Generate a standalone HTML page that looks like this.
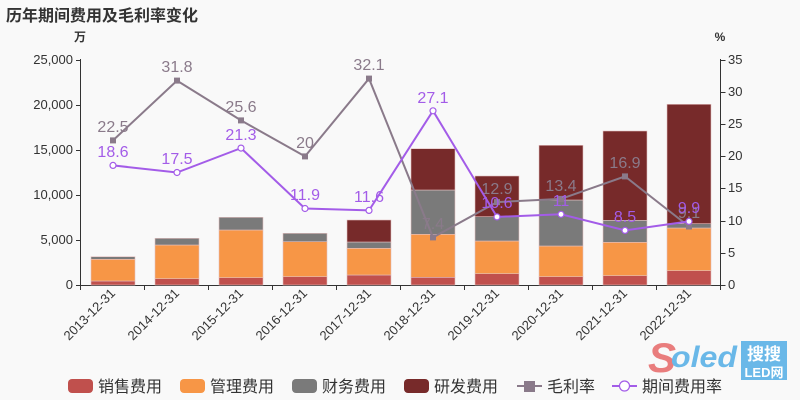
<!DOCTYPE html>
<html><head><meta charset="utf-8"><style>
body{margin:0;background:#f9f9f9;}
svg{display:block;font-family:"Liberation Sans","Noto Sans CJK SC",sans-serif;}
</style></head><body>
<svg width="800" height="400" viewBox="0 0 800 400">
<rect width="800" height="400" fill="#f9f9f9"/>
<text x="6" y="21" font-size="16" font-weight="bold" fill="#333">历年期间费用及毛利率变化</text>
<text x="80" y="41" font-size="12" fill="#333" text-anchor="middle" font-weight="bold">万</text>
<text x="720" y="41" font-size="12" fill="#333" text-anchor="middle" font-weight="bold">%</text>
<g stroke="#333" stroke-width="1" fill="none">
<path d="M80.5 59V285.5H720.5V59"/>
<path d="M76 60.5h4.5M76 105.5h4.5M76 150.5h4.5M76 195.5h4.5M76 240.5h4.5M76 285.5h4.5"/>
<path d="M720.5 60.5h5M720.5 92.5h5M720.5 124.5h5M720.5 156.5h5M720.5 188.5h5M720.5 221.5h5M720.5 253.5h5M720.5 285.5h5"/>
<path d="M80.5 285v5M144.5 285v5M208.5 285v5M272.5 285v5M336.5 285v5M400.5 285v5M464.5 285v5M528.5 285v5M592.5 285v5M656.5 285v5M720.5 285v5"/>
</g>
<g font-size="13" fill="#333" text-anchor="end">
<text x="73" y="64">25,000</text><text x="73" y="109">20,000</text><text x="73" y="154">15,000</text><text x="73" y="199">10,000</text><text x="73" y="244">5,000</text><text x="73" y="289">0</text>
</g>
<g font-size="13" fill="#333">
<text x="728" y="64">35</text><text x="728" y="96">30</text><text x="728" y="128">25</text><text x="728" y="160">20</text><text x="728" y="192">15</text><text x="728" y="225">10</text><text x="728" y="257">5</text><text x="728" y="289">0</text>
</g>
<g font-size="13" fill="#333" text-anchor="end">
<text transform="translate(116,294) rotate(-45)">2013-12-31</text>
<text transform="translate(180,294) rotate(-45)">2014-12-31</text>
<text transform="translate(244,294) rotate(-45)">2015-12-31</text>
<text transform="translate(308,294) rotate(-45)">2016-12-31</text>
<text transform="translate(372,294) rotate(-45)">2017-12-31</text>
<text transform="translate(436,294) rotate(-45)">2018-12-31</text>
<text transform="translate(500,294) rotate(-45)">2019-12-31</text>
<text transform="translate(564,294) rotate(-45)">2020-12-31</text>
<text transform="translate(628,294) rotate(-45)">2021-12-31</text>
<text transform="translate(692,294) rotate(-45)">2022-12-31</text>
</g>
<g stroke="#e3c0c0" stroke-width="0.6">
<rect x="91" y="281" width="44" height="4" fill="#c0504d"/>
<rect x="91" y="259.3" width="44" height="21.7" fill="#f79646"/>
<rect x="91" y="256.7" width="44" height="2.6" fill="#7a7a7a"/>
<rect x="155" y="278.7" width="44" height="6.3" fill="#c0504d"/>
<rect x="155" y="245" width="44" height="33.7" fill="#f79646"/>
<rect x="155" y="238.3" width="44" height="6.7" fill="#7a7a7a"/>
<rect x="219" y="277.7" width="44" height="7.3" fill="#c0504d"/>
<rect x="219" y="230" width="44" height="47.7" fill="#f79646"/>
<rect x="219" y="217.3" width="44" height="12.7" fill="#7a7a7a"/>
<rect x="283" y="276.7" width="44" height="8.3" fill="#c0504d"/>
<rect x="283" y="241.7" width="44" height="35" fill="#f79646"/>
<rect x="283" y="233.3" width="44" height="8.4" fill="#7a7a7a"/>
<rect x="347" y="275" width="44" height="10" fill="#c0504d"/>
<rect x="347" y="248.3" width="44" height="26.7" fill="#f79646"/>
<rect x="347" y="242" width="44" height="6.3" fill="#7a7a7a"/>
<rect x="347" y="220" width="44" height="22" fill="#772a2a"/>
<rect x="411" y="277.3" width="44" height="7.7" fill="#c0504d"/>
<rect x="411" y="234.3" width="44" height="43" fill="#f79646"/>
<rect x="411" y="190" width="44" height="44.3" fill="#7a7a7a"/>
<rect x="411" y="148.7" width="44" height="41.3" fill="#772a2a"/>
<rect x="475" y="273.7" width="44" height="11.3" fill="#c0504d"/>
<rect x="475" y="241" width="44" height="32.7" fill="#f79646"/>
<rect x="475" y="216.7" width="44" height="24.3" fill="#7a7a7a"/>
<rect x="475" y="176" width="44" height="40.7" fill="#772a2a"/>
<rect x="539" y="276.7" width="44" height="8.3" fill="#c0504d"/>
<rect x="539" y="246" width="44" height="30.7" fill="#f79646"/>
<rect x="539" y="200" width="44" height="46" fill="#7a7a7a"/>
<rect x="539" y="145.3" width="44" height="54.7" fill="#772a2a"/>
<rect x="603" y="275.7" width="44" height="9.3" fill="#c0504d"/>
<rect x="603" y="242.3" width="44" height="33.4" fill="#f79646"/>
<rect x="603" y="220.3" width="44" height="22" fill="#7a7a7a"/>
<rect x="603" y="131" width="44" height="89.3" fill="#772a2a"/>
<rect x="667" y="270.7" width="44" height="14.3" fill="#c0504d"/>
<rect x="667" y="228" width="44" height="42.7" fill="#f79646"/>
<rect x="667" y="223.7" width="44" height="4.3" fill="#7a7a7a"/>
<rect x="667" y="104.3" width="44" height="119.4" fill="#772a2a"/>
</g>
<polyline fill="none" stroke="#8a7a8a" stroke-width="2" points="113,140.4 177,80.6 241,120.4 305,156.4 369,78.6 433,237.4 497,202.1 561,198.9 625,176.4 689,226.5"/>
<g fill="#8a7a8a">
<rect x="110" y="137.4" width="6" height="6"/><rect x="174" y="77.6" width="6" height="6"/><rect x="238" y="117.4" width="6" height="6"/><rect x="302" y="153.4" width="6" height="6"/><rect x="366" y="75.6" width="6" height="6"/><rect x="430" y="234.4" width="6" height="6"/><rect x="494" y="199.1" width="6" height="6"/><rect x="558" y="195.9" width="6" height="6"/><rect x="622" y="173.4" width="6" height="6"/><rect x="686" y="223.5" width="6" height="6"/>
</g>
<g font-size="16" fill="#8a7a8a" text-anchor="middle">
<text x="113" y="132">22.5</text><text x="177" y="72">31.8</text><text x="241" y="112">25.6</text><text x="305" y="148">20</text><text x="369" y="70">32.1</text><text x="433" y="229">7.4</text><text x="497" y="194">12.9</text><text x="561" y="191">13.4</text><text x="625" y="168">16.9</text><text x="689" y="218">9.1</text>
</g>
<polyline fill="none" stroke="#a35ce8" stroke-width="2" points="113,165.4 177,172.5 241,148.1 305,208.5 369,210.4 433,110.8 497,216.9 561,214.3 625,230.4 689,221.4"/>
<g fill="#fff" stroke="#a35ce8" stroke-width="1.2">
<circle cx="113" cy="165.4" r="3"/><circle cx="177" cy="172.5" r="3"/><circle cx="241" cy="148.1" r="3"/><circle cx="305" cy="208.5" r="3"/><circle cx="369" cy="210.4" r="3"/><circle cx="433" cy="110.8" r="3"/><circle cx="497" cy="216.9" r="3"/><circle cx="561" cy="214.3" r="3"/><circle cx="625" cy="230.4" r="3"/><circle cx="689" cy="221.4" r="3"/>
</g>
<g font-size="16" fill="#a35ce8" text-anchor="middle">
<text x="113" y="157">18.6</text><text x="177" y="164">17.5</text><text x="241" y="140">21.3</text><text x="305" y="200">11.9</text><text x="369" y="202">11.6</text><text x="433" y="103">27.1</text><text x="497" y="208">10.6</text><text x="561" y="206">11</text><text x="625" y="222">8.5</text><text x="689" y="213">9.9</text>
</g>
<text x="648" y="372" font-size="42" font-style="italic" font-weight="bold" fill="#e87070" opacity="0.9">S</text>
<text x="671" y="367" font-size="30" font-style="italic" font-weight="bold" fill="#6ab8e8" textLength="66" lengthAdjust="spacingAndGlyphs">oled</text>
<rect x="741" y="341" width="46" height="39" fill="#6ab8e8"/>
<text x="764" y="360" font-size="17" font-weight="bold" fill="#fff" text-anchor="middle">搜搜</text>
<text x="764" y="377" font-size="13" font-weight="bold" fill="#fff" text-anchor="middle">LED网</text>
<g font-size="16" fill="#333">
<rect x="68" y="379" width="25" height="14" rx="4" fill="#c0504d"/><text x="98" y="392">销售费用</text>
<rect x="180" y="379" width="25" height="14" rx="4" fill="#f79646"/><text x="210" y="392">管理费用</text>
<rect x="292" y="379" width="25" height="14" rx="4" fill="#7a7a7a"/><text x="322" y="392">财务费用</text>
<rect x="404" y="379" width="25" height="14" rx="4" fill="#772a2a"/><text x="434" y="392">研发费用</text>
<line x1="517" y1="386" x2="542" y2="386" stroke="#8a7a8a" stroke-width="2"/><rect x="524" y="381" width="11" height="11" fill="#8a7a8a"/><text x="547" y="392">毛利率</text>
<line x1="612" y1="386" x2="637" y2="386" stroke="#a35ce8" stroke-width="2"/><circle cx="624.5" cy="386" r="5" fill="#fff" stroke="#a35ce8" stroke-width="1.2"/><text x="642" y="392">期间费用率</text>
</g>
</svg>
</body></html>
